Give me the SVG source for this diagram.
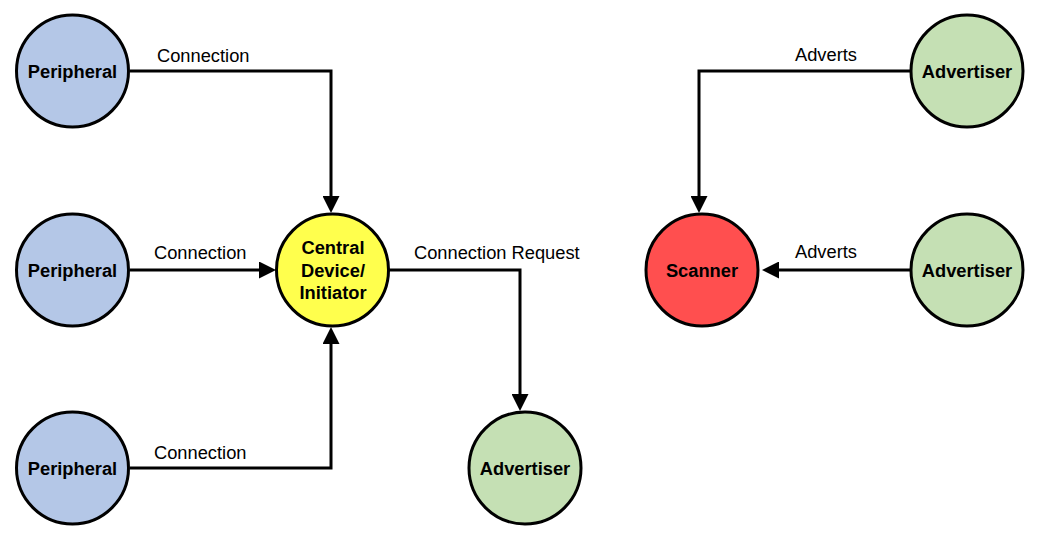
<svg xmlns="http://www.w3.org/2000/svg" width="1040" height="540" viewBox="0 0 1040 540">
<style>
.node{stroke:#000;stroke-width:3}
.per{fill:#B4C7E7}
.adv{fill:#C5E0B4}
.cen{fill:#FFFF4D}
.scn{fill:#FF4F4F}
.nl{font-family:"Liberation Sans",Arial,sans-serif;font-weight:bold;font-size:18.3px;text-anchor:middle;fill:#000}
.el{font-family:"Liberation Sans",Arial,sans-serif;font-size:18.3px;fill:#000}
.edge{fill:none;stroke:#000;stroke-width:3}
</style>
<defs>
<marker id="arr" markerUnits="userSpaceOnUse" markerWidth="17" markerHeight="17" refX="0" refY="8.5" orient="auto" viewBox="0 0 17 17">
<path d="M0,0 L17,8.5 L0,17 z" fill="#000"/>
</marker>
</defs>
<rect width="1040" height="540" fill="#fff"/>
<g id="connectors">
<path class="edge" d="M130,71 H331 V196" marker-end="url(#arr)"/>
<path class="edge" d="M130,270 H259" marker-end="url(#arr)"/>
<path class="edge" d="M130,468 H331 V344" marker-end="url(#arr)"/>
<path class="edge" d="M389,270 H520 V394" marker-end="url(#arr)"/>
<path class="edge" d="M910,71 H699 V196" marker-end="url(#arr)"/>
<path class="edge" d="M910,270 H779" marker-end="url(#arr)"/>
<text class="el" x="157" y="62">Connection</text>
<text class="el" x="154" y="259">Connection</text>
<text class="el" x="154" y="459">Connection</text>
<text class="el" x="414" y="259">Connection Request</text>
<text class="el" x="795" y="61">Adverts</text>
<text class="el" x="795" y="258">Adverts</text>
</g>
<g id="peripheral1"><circle class="node per" cx="72.5" cy="71" r="56"/><text class="nl" x="72.5" y="78">Peripheral</text></g>
<g id="peripheral2"><circle class="node per" cx="72.5" cy="270" r="56"/><text class="nl" x="72.5" y="277">Peripheral</text></g>
<g id="peripheral3"><circle class="node per" cx="72.5" cy="468" r="56"/><text class="nl" x="72.5" y="475">Peripheral</text></g>
<g id="central"><circle class="node cen" cx="332.5" cy="270" r="56"/><text class="nl" x="333" y="254">Central</text><text class="nl" x="333" y="276.5">Device/</text><text class="nl" x="333" y="298.5">Initiator</text></g>
<g id="advertiser-bottom"><circle class="node adv" cx="525" cy="468" r="56"/><text class="nl" x="525" y="475">Advertiser</text></g>
<g id="scanner"><circle class="node scn" cx="702" cy="270" r="56"/><text class="nl" x="702" y="277">Scanner</text></g>
<g id="advertiser-top"><circle class="node adv" cx="967" cy="71" r="56"/><text class="nl" x="967" y="78">Advertiser</text></g>
<g id="advertiser-right"><circle class="node adv" cx="967" cy="270" r="56"/><text class="nl" x="967" y="277">Advertiser</text></g>
</svg>
